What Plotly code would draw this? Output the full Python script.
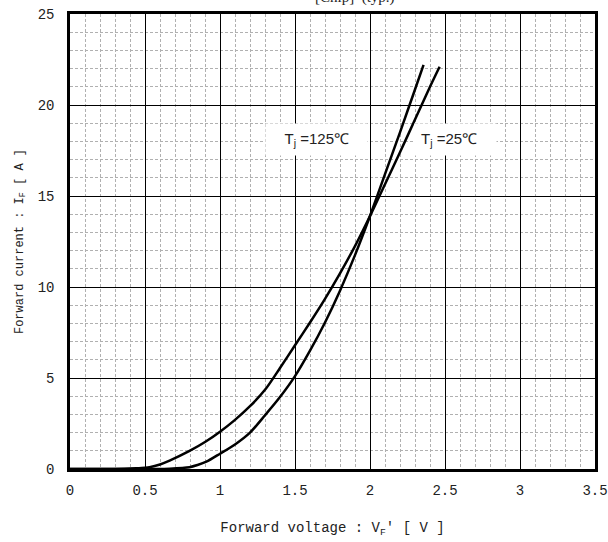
import plotly.graph_objects as go

# Tj = 25°C
vf_25 = [0.0, 0.3, 0.55, 0.664, 0.797, 0.85, 0.909, 1.0, 1.1, 1.2, 1.3, 1.4, 1.5, 1.6, 1.7, 1.8, 1.9, 2.0, 2.1, 2.2, 2.3, 2.357]
if_25 = [0.0, 0.0, 0.005, 0.02, 0.1, 0.22, 0.4, 0.84, 1.35, 2.0, 2.95, 3.95, 5.1, 6.5, 8.05, 9.8, 11.75, 13.9, 16.2, 18.5, 20.85, 22.2]

# Tj = 125°C
vf_125 = [0.0, 0.3, 0.44, 0.5, 0.53, 0.6, 0.664, 0.797, 0.9, 1.0, 1.1, 1.2, 1.3, 1.4, 1.5, 1.6, 1.7, 1.8, 1.9, 2.0, 2.1, 2.2, 2.3, 2.4, 2.464]
if_125 = [0.0, 0.0, 0.04, 0.07, 0.1, 0.25, 0.46, 0.99, 1.48, 2.05, 2.7, 3.45, 4.35, 5.55, 6.8, 8.05, 9.35, 10.75, 12.25, 13.9, 15.65, 17.4, 19.2, 21.0, 22.1]

x_ticks = [0, 0.5, 1, 1.5, 2, 2.5, 3, 3.5]
x_ticklabels = ["0", "0.5", "1", "1.5", "2", "2.5", "3", "3.5"]
y_ticks = [0, 5, 10, 15, 20, 25]

mono = "Liberation Mono"

fig = go.Figure()
fig.add_trace(go.Scatter(x=vf_25, y=if_25, mode="lines",
                         line=dict(color="black", width=2.5, shape="spline", smoothing=0.8), showlegend=False))
fig.add_trace(go.Scatter(x=vf_125, y=if_125, mode="lines",
                         line=dict(color="black", width=2.5, shape="spline", smoothing=0.8), showlegend=False))

fig.add_annotation(x=1.3, y=18.1, xref="x", yref="y", xanchor="left",
                   text="&nbsp;&nbsp;&nbsp;T<sub>j</sub> =125℃&nbsp;&nbsp;&nbsp;",
                   showarrow=False, bgcolor="white", borderpad=6,
                   font=dict(family="Liberation Sans", size=15, color="#222"))
fig.add_annotation(x=2.293, y=18.1, xref="x", yref="y", xanchor="left",
                   text="T<sub>j</sub> =25℃&nbsp;&nbsp;&nbsp;",
                   showarrow=False, bgcolor="white", borderpad=6,
                   font=dict(family="Liberation Sans", size=15, color="#222"))
fig.add_annotation(x=0.543, y=1.0, xref="paper", yref="paper", yanchor="bottom", yshift=6,
                   text="[Chip]  (typ.)", showarrow=False,
                   font=dict(family="Liberation Serif", size=15, color="#222"))

axis_common = dict(
    showline=True, linecolor="black", linewidth=2.5, mirror=True,
    showgrid=True, gridcolor="black", gridwidth=1,
    zeroline=False, ticks="", automargin=False, ticklabeloverflow="allow",
    tickfont=dict(family=mono, size=14, color="#222"),
)

fig.update_xaxes(range=[0, 3.5], tickvals=x_ticks, ticktext=x_ticklabels, ticklabelstandoff=6,
                 minor=dict(dtick=0.1, showgrid=True, gridcolor="#b0b0b0", griddash="3px,2px", gridwidth=1),
                 title=dict(text="Forward voltage : V<sub>F</sub>' [ V ]",
                            font=dict(family=mono, size=14, color="#222"), standoff=25),
                 **axis_common)
fig.update_yaxes(range=[0, 25], tickvals=y_ticks, ticklabelstandoff=10,
                 minor=dict(dtick=1, showgrid=True, gridcolor="#b0b0b0", griddash="3px,2px", gridwidth=1),
                 title=dict(text="Forward current : I<sub>F</sub> [ A ]",
                            font=dict(family=mono, size=12, color="#222"), standoff=12),
                 **axis_common)

fig.update_layout(width=608, height=542, margin=dict(l=70, r=13, t=14, b=73),
                  plot_bgcolor="white", paper_bgcolor="white")

fig.write_html("out.html", config={"displayModeBar": False},
               post_script="document.body.style.margin='0';document.body.style.overflow='hidden';")
